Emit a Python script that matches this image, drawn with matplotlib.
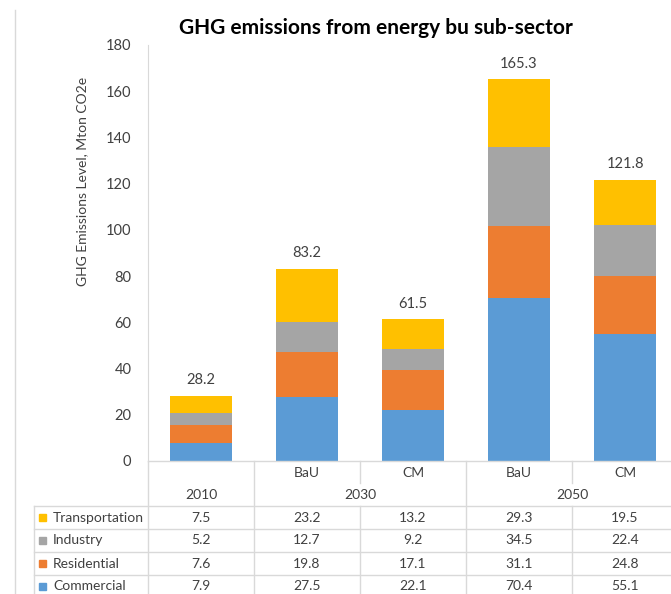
import matplotlib.pyplot as plt
import matplotlib.transforms as mtransforms

# data
columns = ['2010', 'BaU', 'CM', 'BaU', 'CM']
years = ['2010', '2030', '2050']
sectors = ['Commercial', 'Residential', 'Industry', 'Transportation']
commercial = [7.9, 27.5, 22.1, 70.4, 55.1]
residential = [7.6, 19.8, 17.1, 31.1, 24.8]
industry = [5.2, 12.7, 9.2, 34.5, 22.4]
transportation = [7.5, 23.2, 13.2, 29.3, 19.5]
totals = [28.2, 83.2, 61.5, 165.3, 121.8]
colors = ['#5B9BD5', '#ED7D31', '#A5A5A5', '#FFC000']

W, H = 671, 594
fig = plt.figure(figsize=(W / 100, H / 100), dpi=100)
plt.rcParams['font.family'] = ['Lato', 'DejaVu Sans']

# axes placed in pixels: left 148, bottom 461, top 45, 106 px per category
ax = fig.add_axes([148 / W, 1 - 461 / H, 530 / W, 416 / H])
x = list(range(len(columns)))
series = [commercial, residential, industry, transportation]
bottom = [0] * len(x)
for vals, c in zip(series, colors):
    ax.bar(x, vals, 0.58, bottom=bottom, color=c, zorder=2)
    bottom = [b + v for b, v in zip(bottom, vals)]

for xi, t in zip(x, totals):
    ax.annotate(f'{t}', (xi, t), xytext=(0, 6), textcoords='offset points',
                ha='center', va='bottom', fontsize=10.5, color='#404040')

ax.set_xlim(-0.5, 4.5)
ax.set_ylim(0, 180)
ax.set_yticks(range(0, 181, 20))
ax.tick_params(axis='y', length=0, pad=12, labelsize=10.5, labelcolor='#404040')
ax.set_xticks([])
for s in ['top', 'right', 'bottom']:
    ax.spines[s].set_visible(False)
ax.spines['left'].set_color('#D9D9D9')

fig.text(82 / W, 1 - 181 / H, 'GHG Emissions Level, Mton CO2e', rotation=90,
         ha='center', va='center', fontsize=10, color='#404040')
fig.text(376 / W, 1 - 28 / H, 'GHG emissions from energy bu sub-sector',
         ha='center', va='center', fontsize=15, fontweight='bold', color='#000000')

# data table below the plot
tr = mtransforms.blended_transform_factory(ax.transData, fig.transFigure)
grid = '#D9D9D9'


def fy(px):
    return 1 - px / H


def hline(x0, x1, ypx):
    ax.plot([x0, x1], [fy(ypx), fy(ypx)], color=grid, lw=1, transform=tr, clip_on=False)


def vline(xd, y0, y1):
    ax.plot([xd, xd], [fy(y0), fy(y1)], color=grid, lw=1, transform=tr, clip_on=False)


hline(-0.5, 4.6, 461)
vline(-0.5, 461, 600)
vline(0.5, 461, 600)
vline(1.5, 461, 483)
vline(1.5, 506, 600)
vline(2.5, 461, 600)
vline(3.5, 461, 483)
vline(3.5, 506, 600)

for xi, name in zip(x[1:], columns[1:]):
    ax.text(xi, fy(473), name, transform=tr, ha='center', va='center',
            fontsize=10, color='#404040')
for xc, yr in zip([0, 1.5, 3.5], years):
    ax.text(xc, fy(495), yr, transform=tr, ha='center', va='center',
            fontsize=10, color='#404040')

row_tops = [506, 529, 552, 575, 598]
table_rows = list(zip(sectors, series, colors))[::-1]
left = 34 / W
for i, (name, vals, c) in enumerate(table_rows):
    ytop = row_tops[i]
    fig.add_artist(plt.Line2D([left, 1], [fy(ytop), fy(ytop)], color=grid, lw=1))
    yc = fy(ytop + 11.5)
    fig.add_artist(plt.Rectangle((39 / W, yc - 3.5 / H), 7 / W, 7 / H,
                                 color=c, transform=fig.transFigure))
    fig.text(53 / W, yc, name, ha='left', va='center', fontsize=10, color='#404040')
    for xi, v in zip(x, vals):
        ax.text(xi, yc, f'{v}', transform=tr, ha='center', va='center',
                fontsize=10, color='#404040')
fig.add_artist(plt.Line2D([left, left], [fy(506), 0], color=grid, lw=1))
# chart area border on the far left
fig.add_artist(plt.Line2D([15 / W, 15 / W], [fy(10), 0], color=grid, lw=1))

fig.savefig('out.png', dpi=100)
